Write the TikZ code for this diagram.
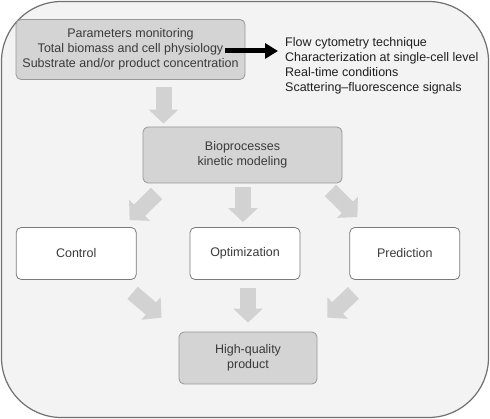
\documentclass[tikz,border=0pt]{standalone}
\usepackage{fontspec}
\setmainfont{Liberation Sans}
\usetikzlibrary{positioning,arrows.meta,calc}
\definecolor{pagefill}{HTML}{F3F3F3}
\definecolor{pageline}{HTML}{707070}
\definecolor{boxfill}{HTML}{D4D4D4}
\definecolor{boxline}{HTML}{989898}
\definecolor{arrfill}{HTML}{D2D2D2}
\definecolor{txt}{HTML}{3A3A3A}

\begin{document}
\begin{tikzpicture}[x=1pt, y=-1pt,
      graybox/.style={draw=boxline, fill=boxfill, line width=0.8pt, rounded corners=5pt, align=center, text=txt},
      whitebox/.style={draw=boxline!80!black, fill=white, line width=0.8pt, rounded corners=5pt, align=center, text=txt, minimum height=52pt},
      fatarr/.style={draw=arrfill, line width=16pt, -{Triangle[length=14pt,width=29pt]}},
      blackarr/.style={draw=black, line width=5pt, -{Triangle[length=13pt,width=15pt]}},
      font=\fontsize{12.5}{15}\selectfont
    ]
    \useasboundingbox (0,0) rectangle (490,419);
    \draw[pageline, fill=pagefill, line width=1.2pt, rounded corners=60pt] (1.5,1.5) rectangle (488.5,417.5);

    \node[graybox, minimum width=229pt, minimum height=60pt] (params) at (130.5,49.5)
      {Parameters monitoring\\Total biomass and cell physiology\\Substrate and/or product concentration};
    \node[anchor=north west, inner sep=0pt, align=left, text=black!88] (info) at (285,37)
      {Flow cytometry technique\\Characterization at single-cell level\\Real-time conditions\\Scattering--fluorescence signals};
    \node[graybox, minimum width=199pt, minimum height=56pt] (bio) at (242.5,155)
      {Bioprocesses\\kinetic modeling};
    \node[whitebox, minimum width=110pt] (opt) at (245,253.5) {Optimization};
    \node[whitebox, minimum width=120pt, left=53pt of opt] (ctrl) {Control};
    \node[whitebox, minimum width=110pt, right=49pt of opt] (pred) {Prediction};
    \node[graybox, minimum width=138pt, minimum height=52pt] (hq) at (248,358)
      {High-quality\\product};

    \coordinate (bstart) at ([shift={(-20,1.5)}]params.east);
    \draw[blackarr, shorten >=7pt] (bstart) -- (bstart -| info.west);

    \draw[fatarr] ([shift={(33,7)}]params.south) -- ([shift={(-79,-3)}]bio.north);
    \draw[fatarr] ([shift={(14,10)}]bio.south west) -- ([shift={(-7,-7)}]ctrl.north east);
    \draw[fatarr] ([shift={(0.5,4)}]bio.south) -- ([shift={(-2,-5)}]opt.north);
    \draw[fatarr] ([shift={(-12,7)}]bio.south east) -- ([shift={(8,-10)}]pred.north west);
    \draw[fatarr] ([shift={(-4,13)}]ctrl.south east) -- ([shift={(-17,-14)}]hq.north west);
    \draw[fatarr] ([shift={(3,8)}]opt.south) -- ([shift={(0,-9)}]hq.north);
    \draw[fatarr] ([shift={(4,13)}]pred.south west) -- ([shift={(10,-14)}]hq.north east);
  \end{tikzpicture}
\end{document}
